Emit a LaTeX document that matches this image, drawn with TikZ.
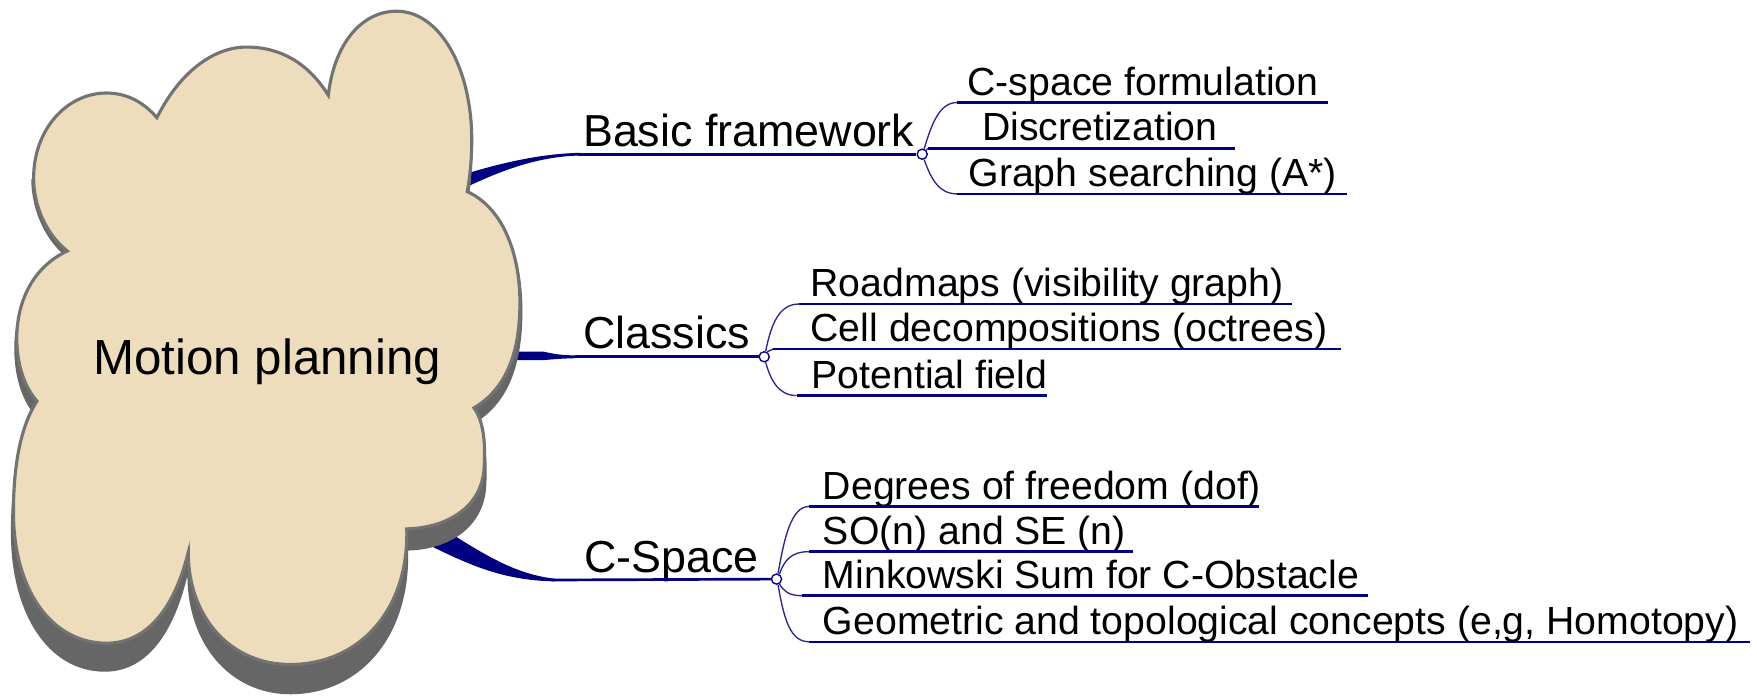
\documentclass[tikz,border=0pt]{standalone}
\usepackage{fontspec}
\setmainfont{Liberation Sans}
\definecolor{mmnavy}{RGB}{0,0,128}
\definecolor{twigc}{RGB}{40,40,140}
\definecolor{cloudfill}{RGB}{237,221,188}
\definecolor{cloudline}{RGB}{115,115,115}
\definecolor{cloudshadow}{RGB}{102,102,102}
\tikzset{
  cloudpic/.pic={
    \path[pic actions] (293,85) .. controls (298,40) and (322,10) .. (354,10)
      .. controls (392,10) and (421,60) .. (421,125)
      .. controls (421,145) and (419,160) .. (417,171)
      .. controls (448,185) and (464,225) .. (464,270)
      .. controls (464,318) and (450,348) .. (423,364)
      .. controls (433,378) and (433,400) .. (432,418)
      .. controls (430,452) and (400,471) .. (363,472)
      .. controls (365,545) and (320,593) .. (259,593)
      .. controls (205,593) and (168,550) .. (168,493)
      .. controls (155,545) and (130,574) .. (95,574)
      .. controls (45,574) and (12,525) .. (12,457)
      .. controls (12,410) and (20,378) .. (33,358)
      .. controls (20,343) and (15,322) .. (15,302)
      .. controls (15,268) and (30,238) .. (60,224)
      .. controls (40,208) and (30,182) .. (30,159)
      .. controls (30,115) and (60,83) .. (95,83)
      .. controls (113,83) and (128,91) .. (140,105)
      .. controls (160,65) and (190,42) .. (220,42)
      .. controls (250,42) and (275,56) .. (293,85) -- cycle;
  },
  branchtext/.style={font=\fontsize{20}{24}\selectfont, anchor=base west, inner sep=0pt},
  leaftext/.style={font=\fontsize{17.5}{21}\selectfont, anchor=base west, inner sep=0pt},
  hub/.style={circle, draw=mmnavy, fill=white, line width=0.6pt, minimum size=4.5pt, inner sep=0pt},
  mainline/.style={draw=mmnavy, line width=1.2pt},
  uline/.style={draw=mmnavy, line width=1.1pt},
  twig/.style={draw=twigc, line width=0.6pt},
  taper/.style={fill=mmnavy}
}
\begin{document}
\begin{tikzpicture}[x=0.5pt,y=-0.5pt]
\useasboundingbox (0,0) rectangle (1568,623);

% tapered roots of the main branches (partly hidden by the cloud)
\fill[taper] (400,160) .. controls (440,147) and (480,137) .. (518,136.4) -- (518,138.8) .. controls (480,139.5) and (445,152) .. (400,175) -- cycle;
\fill[taper] (440,313.6) -- (485,313.8) .. controls (495,316) and (500,317) .. (515,317.2) -- (515,319.6) .. controls (500,320) and (495,320.5) .. (485,321.4) -- (440,321.4) -- cycle;
\fill[taper] (380,462) .. controls (425,490) and (455,512) .. (495,516.4) -- (495,518.8) .. controls (450,518) and (420,505) .. (380,485) -- cycle;

% cloud with shadow (shadow only below the upper lobes)
\begin{scope}
  \clip (0,160) rectangle (1568,623);
  \pic[fill=cloudshadow, shift={(-2.4,-9)}, xscale=1.01, yscale=1.06] at (0,0) {cloudpic};
\end{scope}
\pic[fill=cloudfill, draw=cloudline, line width=1.4pt] at (0,0) {cloudpic};
\node[font=\fontsize{22}{26}\selectfont, anchor=base, inner sep=0pt] (mp) at (238.5,334) {Motion planning};

% main branches
\coordinate (bfs) at (516,137.6);
\coordinate (cls) at (513,318.4);
\coordinate (css) at (493,517.6);
\node[hub] (B) at (823,137.6) {};
\node[hub] (C) at (682,318.4) {};
\node[hub] (S) at (693,516.8) {};
\node[branchtext] (bft) at (520,131) {Basic framework};
\node[branchtext] (clt) at (520,311) {Classics};
\node[branchtext] (cst) at (521,510.5) {C-Space};
\draw[mainline] (bfs) -- (B.west);
\draw[mainline] (cls) -- (C.west);
\draw[mainline] (css) -- (S.west);

% Basic framework leaves
\coordinate (cfs) at (854,91.5);   \coordinate (cfe) at (1185,91.5);
\coordinate (dzs) at (828,132.6);  \coordinate (dze) at (1102,132.6);
\coordinate (gss) at (854,173);    \coordinate (gse) at (1202,173);
\node[leaftext] (cf) at (863,85) {C-space formulation};
\node[leaftext] (dz) at (876,125.5) {Discretization};
\node[leaftext] (gs) at (864,166.5) {Graph searching (A*)};
\draw[twig] (B.70) .. controls (831,112) and (838,91.5) .. (cfs);
\draw[twig] (B.45) -- (dzs);
\draw[twig] (B.-70) .. controls (831,160) and (838,173) .. (gss);
\draw[uline] (cfs) -- (cfe);
\draw[uline] (dzs) -- (dze);
\draw[uline] (gss) -- (gse);

% Classics leaves
\coordinate (rms) at (713,271.3);  \coordinate (rme) at (1153,271.3);
\coordinate (cds) at (690,311.5);  \coordinate (cde) at (1197,311.5);
\coordinate (pfs) at (711,353);    \coordinate (pfe) at (934,353);
\node[leaftext] (rm) at (723,264.8) {Roadmaps (visibility graph)};
\node[leaftext] (cd) at (723,305) {Cell decompositions (octrees)};
\node[leaftext] (pf) at (724,346.5) {Potential field};
\draw[twig] (C.75) .. controls (688,290) and (695,271.3) .. (rms);
\draw[twig] (C.60) -- (cds);
\draw[twig] (C.-75) .. controls (688,340) and (695,353) .. (pfs);
\draw[uline] (rms) -- (rme);
\draw[uline] (cds) -- (cde);
\draw[uline] (pfs) -- (pfe);

% C-Space leaves
\coordinate (dgs) at (722,452);    \coordinate (dge) at (1124,452);
\coordinate (sos) at (722,492.3);  \coordinate (soe) at (1011,492.3);
\coordinate (mks) at (716,531.6);  \coordinate (mke) at (1221,531.6);
\coordinate (gms) at (722,572.7);  \coordinate (gme) at (1562,572.7);
\node[leaftext] (dg) at (734,445.5) {Degrees of freedom (dof)};
\node[leaftext] (so) at (734,485.8) {SO(n) and SE (n)};
\node[leaftext] (mk) at (734,525) {Minkowski Sum for C-Obstacle};
\node[leaftext] (gm) at (734,566.2) {Geometric and topological concepts (e,g, Homotopy)};
\draw[twig] (S.75) .. controls (700,480) and (706,452) .. (dgs);
\draw[twig] (S.60) .. controls (700,500) and (706,492.3) .. (sos);
\draw[twig] (S.-60) .. controls (700,528) and (704,531.6) .. (mks);
\draw[twig] (S.-75) .. controls (700,555) and (706,572.7) .. (gms);
\draw[uline] (dgs) -- (dge);
\draw[uline] (sos) -- (soe);
\draw[uline] (mks) -- (mke);
\draw[uline] (gms) -- (gme);
\end{tikzpicture}
\end{document}
